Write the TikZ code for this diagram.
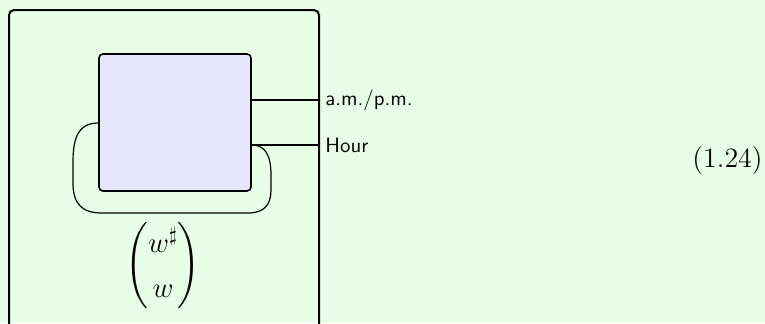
\documentclass[tikz,border=0pt]{standalone}
\usepackage{amsmath}
\definecolor{bggreen}{RGB}{230,255,230}
\definecolor{boxblue}{RGB}{230,230,255}
\tikzset{
  outerbox/.style={draw, line width=1pt, rounded corners=2.5pt, inner sep=0pt, minimum width=155pt, minimum height=165pt},
  devbox/.style={draw, fill=boxblue, line width=0.8pt, rounded corners=2pt, inner sep=0pt, minimum width=76pt, minimum height=68.5pt},
  wire/.style={line width=0.6pt},
  lbl/.style={font=\sffamily\fontsize{10.4}{12}\selectfont, inner sep=0pt, anchor=base west},
}
\begin{document}
\begin{tikzpicture}[x=0.5pt,y=-0.5pt]
\fill[bggreen] (0,0) rectangle (765,323);
\useasboundingbox (0,0) rectangle (765,323);
\begin{scope}
\clip (0,0) rectangle (765,323);
\node[outerbox] (outer) at (164,175) {};
\end{scope}
\node[devbox] (dev) at (175,122.5) {};
\coordinate (amEnd) at (outer.east |- 0,100);
\coordinate (hrEnd) at (outer.east |- 0,145);
\draw[wire] (dev.east |- amEnd) -- (amEnd);
\draw[wire] (dev.east |- hrEnd) -- (hrEnd);
\draw[wire] (dev.west |- 0,123) .. controls (76,123) and (73,142) .. (73,163) -- (73,183)
  .. controls (73,204) and (82,213) .. (102,213) -- (248,213)
  .. controls (264,213) and (271,205) .. (271,190) -- (271,175)
  .. controls (271,155) and (265,145) .. (dev.east |- hrEnd);
\node[lbl] (amlbl) at (325,105) {a.m./p.m.};
\node[lbl] (hrlbl) at (325,152) {Hour};
\node[inner sep=0pt, font=\fontsize{14.5}{17.4}\selectfont] (mat) at (163,266) {\renewcommand{\arraystretch}{1.3}$\begin{pmatrix} w^{\sharp}\\ w\end{pmatrix}$};
\node[inner sep=0pt, anchor=base east, font=\fontsize{14}{17}\selectfont] (eqn) at (763,167) {(1.24)};
\end{tikzpicture}
\end{document}
